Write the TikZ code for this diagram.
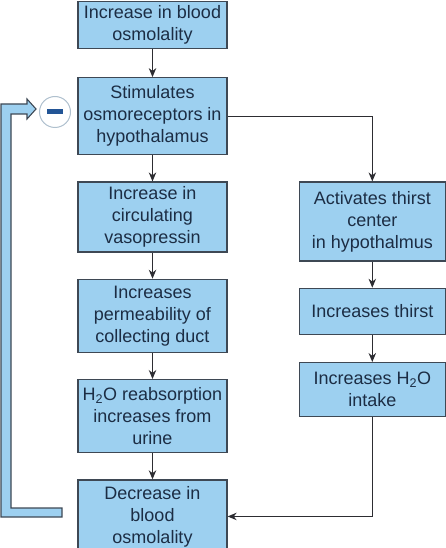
\documentclass[tikz,border=0pt]{standalone}
\usepackage{fontspec}
\setmainfont{Liberation Sans}
\usetikzlibrary{arrows.meta, positioning}

\definecolor{boxblue}{RGB}{157,208,240}
\definecolor{boxline}{RGB}{62,72,84}
\definecolor{txtdark}{RGB}{28,45,68}
\definecolor{arrgray}{RGB}{45,45,50}
\definecolor{ringgray}{RGB}{175,192,206}
\definecolor{minusblue}{RGB}{35,85,150}

\begin{document}
\begin{tikzpicture}[x=1pt, y=1pt, node distance=26pt,
  box/.style={draw=boxline, line width=1.3pt, fill=boxblue, rectangle, minimum width=149pt, align=center, inner sep=2pt, text=txtdark, font=\fontsize{18}{22}\selectfont},
  rbox/.style={box, minimum width=146pt},
  arr/.style={draw=arrgray, line width=1pt, -{Stealth[length=9pt, width=7.5pt]}}]
    \useasboundingbox (0,0) rectangle (446,-548);

    % Left column: ADH path
    \node[box, anchor=north, minimum height=47pt] (incosm) at (152.5,-0.8) {Increase in blood\\osmolality};
    \node[box, below=28pt of incosm, minimum height=77pt] (osmorec) {Stimulates\\osmoreceptors in\\hypothalamus};
    \node[box, below=of osmorec, minimum height=70pt] (vaso) {Increase in\\circulating\\vasopressin};
    \node[box, below=of vaso, minimum height=73pt] (perm) {Increases\\permeability of\\collecting duct};
    \node[box, below=of perm, minimum height=73pt] (reabs) {H\textsubscript{2}O reabsorption\\increases from\\urine};
    \node[box, below=of reabs, minimum height=73pt] (decosm) {Decrease in\\blood\\osmolality};

    % Right column: thirst path
    \node[rbox, right=71pt of vaso.north east, anchor=north west, minimum height=79pt] (thirstc) {Activates thirst\\center\\in hypothalmus};
    \node[rbox, below=of thirstc, minimum height=46pt] (thirst) {Increases thirst};
    \node[rbox, below=27pt of thirst, minimum height=54pt] (intake) {Increases H\textsubscript{2}O\\intake};

    \draw[arr] (incosm) -- (osmorec);
    \draw[arr] (osmorec) -- (vaso);
    \draw[arr] (vaso) -- (perm);
    \draw[arr] (perm) -- (reabs);
    \draw[arr] (reabs) -- (decosm);
    \draw[arr] (osmorec) -| (thirstc);
    \draw[arr] (thirstc) -- (thirst);
    \draw[arr] (thirst) -- (intake);
    \draw[arr] (intake) |- (decosm);

    % Negative feedback
    \node[circle, draw=ringgray, line width=1pt, fill=white, minimum size=31pt, inner sep=0pt] (neg) at (55,-112) {\color{minusblue}\rule[-2.5pt]{16pt}{5pt}};
    \draw[fill=boxblue, draw=boxline, line width=1.1pt, line join=miter]
      (1,-517) -- (62,-517) -- (62,-508) -- (11,-508) -- (11,-114) -- (27,-114)
      -- (27,-119) -- (36,-109) -- (27,-99) -- (27,-104) -- (1,-104) -- cycle;
\end{tikzpicture}
\end{document}
